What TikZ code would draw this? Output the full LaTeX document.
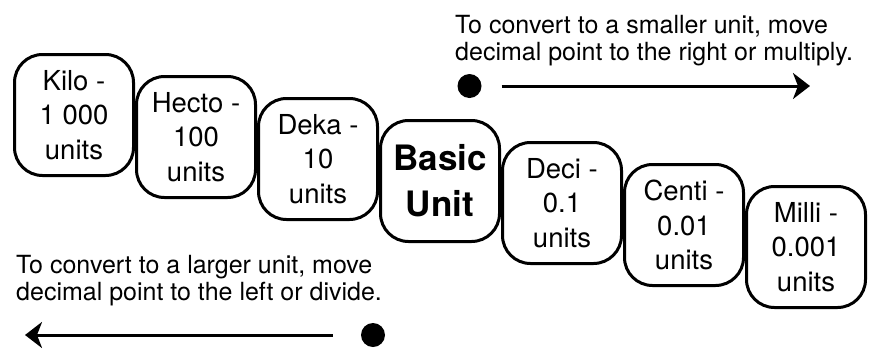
\documentclass[tikz,border=0pt]{standalone}
\usepackage{fontspec}
\setmainfont{TeX Gyre Heros}
\usepackage{tikz}
\usetikzlibrary{calc,positioning,arrows.meta}

\tikzset{
	unitbox/.style={shape=rectangle,draw,line width=3pt,rounded corners=28pt,
		minimum width=119pt,minimum height=121pt,inner sep=0pt,align=center,
		font=\fontsize{27.5}{34.5}\selectfont},
	basicbox/.style={unitbox,font=\fontsize{35}{46}\selectfont\bfseries},
	note/.style={inner sep=0pt,align=left,font=\fontsize{25}{27}\selectfont},
	dot/.style={shape=circle,fill,inner sep=0pt,minimum size=24pt},
	conv/.style={line width=3pt,-{Stealth[length=17pt,width=26pt,inset=5pt]}}
}

\begin{document}
\begin{tikzpicture}[x=1pt,y=-1pt]
		\useasboundingbox (0,0) rectangle (871,349);
		\begin{scope}
			\node(kilo) [unitbox] at (74,115) {Kilo -\\1 000\\units};
			\node(hecto) [unitbox,right=0pt of kilo,yshift=-22pt] {Hecto -\\100\\units};
			\node(deka) [unitbox,right=0pt of hecto,yshift=-22pt] {Deka -\\10\\units};
			\node(basic) [basicbox,right=0pt of deka,yshift=-22pt] {Basic\\Unit};
			\node(deci) [unitbox,right=0pt of basic,yshift=-22pt] {Deci -\\0.1\\units};
			\node(centi) [unitbox,right=0pt of deci,yshift=-22pt] {Centi -\\0.01\\units};
			\node(milli) [unitbox,right=0pt of centi,yshift=-22pt] {Milli -\\0.001\\units};
		\end{scope}
		% smaller unit
		\node(smaller) [note,anchor=base west] at (455,60) {To convert to a smaller unit, move\\decimal point to the right or multiply.};
		\node(dotR) [dot] at (469.5,86) {};
		\coordinate (endR) at (810,86);
		\draw[conv,shorten <=20pt] (dotR) -- (endR);
		% larger unit
		\node(larger) [note,anchor=base west] at (16,300) {To convert to a larger unit, move\\decimal point to the left or divide.};
		\node(dotL) [dot] at (373,335) {};
		\coordinate (endL) at (25,335);
		\draw[conv,shorten <=28pt] (dotL) -- (endL);
	\end{tikzpicture}
\end{document}
